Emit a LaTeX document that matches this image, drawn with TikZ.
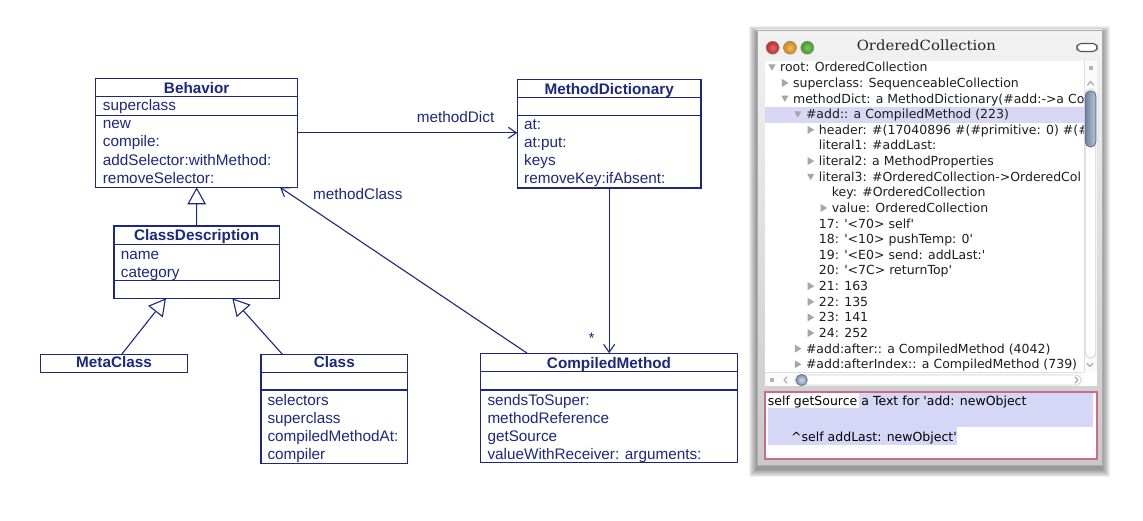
\documentclass[tikz,border=0pt]{standalone}
\usepackage{fontspec}
\setmainfont{Liberation Sans}
\newfontfamily\treefont{DejaVu Sans}[Ligatures=TeXOff]
\newfontfamily\titlefont{DejaVu Serif}[FakeStretch=1.06]
\usetikzlibrary{arrows.meta,calc}
\definecolor{umlblue}{RGB}{28,40,128}
\definecolor{selrow}{RGB}{216,216,244}
\definecolor{texthl}{RGB}{214,214,246}
\definecolor{treeink}{RGB}{30,30,30}
\definecolor{thumbdark}{RGB}{95,115,150}
\definecolor{thumbfill}{RGB}{140,162,195}
\definecolor{paneborder}{RGB}{205,105,140}
\definecolor{lightred}{RGB}{222,50,50}
\definecolor{lightorange}{RGB}{240,160,30}
\definecolor{lightgreen}{RGB}{80,180,50}
\tikzset{
  umlbox/.style={draw=umlblue, line width=1.1bp, inner sep=0pt, outer sep=0pt, fill=white},
  umlsep/.style={draw=umlblue, line width=1.1bp},
  umltext/.style={text=umlblue, inner sep=0pt, anchor=base west, font=\fontsize{15.3bp}{18bp}\selectfont},
  umltitle/.style={umltext, anchor=base, font=\bfseries\fontsize{15.3bp}{18bp}\selectfont},
  assoc/.style={draw=umlblue, line width=1.1bp, -{Straight Barb[length=8bp,width=11bp,line width=1.1bp]}},
  inherit/.style={draw=umlblue, line width=1.1bp, -{Triangle[open,length=17bp,width=18.5bp,line width=1.1bp,fill=white]}},
  treetext/.style={text=treeink, inner sep=0pt, anchor=base west, font=\treefont\fontsize{12.5bp}{15bp}\selectfont},
  chev/.style={draw=gray!65, line width=1.3bp, line cap=round, line join=round},
  tridown/.pic={\fill[gray!70] (-3.6,-2.9) -- (3.6,-2.9) -- (0,3.4) -- cycle;},
  triright/.pic={\fill[gray!70] (-3,-4) -- (3.6,0) -- (-3,4) -- cycle;}
}
\begin{document}
\begin{tikzpicture}[x=1bp,y=-1bp]
\useasboundingbox (0,0) rectangle (1143,521);
\fill[white] (0,0) rectangle (1143,521);

% ---------------- UML diagram ----------------
\node[umlbox, minimum width=202bp, minimum height=109bp] (behavior) at (196.7,132.8) {};
\draw[umlsep] (behavior.west |- 0,96.7) -- (behavior.east |- 0,96.7);
\draw[umlsep] (behavior.west |- 0,115.7) -- (behavior.east |- 0,115.7);
\node[umltitle] (behaviortitle) at (196.7,93.5) {Behavior};
\node[umltext] (battr) at (102.7,110.7) {superclass};
\foreach \t [count=\i from 0] in {new,compile:,addSelector:withMethod:,removeSelector:}
  \node[umltext] (bm\i) at (102.7,128.5+18.3*\i) {\t};

\node[umlbox, minimum width=183.7bp, minimum height=108.7bp] (mdict) at (609.15,133.65) {};
\draw[umlsep] (mdict.west |- 0,97.7) -- (mdict.east |- 0,97.7);
\draw[umlsep] (mdict.west |- 0,115.7) -- (mdict.east |- 0,115.7);
\node[umltitle] (mdicttitle) at (609.15,94.3) {MethodDictionary};
\foreach \t [count=\i from 0] in {at:,at:put:,keys,removeKey:ifAbsent:}
  \node[umltext] (mm\i) at (524,130+17.8*\i) {\t};

\node[umlbox, minimum width=256.6bp, minimum height=109bp] (cmethod) at (609,407.8) {};
\draw[umlsep] (cmethod.west |- 0,371.7) -- (cmethod.east |- 0,371.7);
\draw[umlsep] (cmethod.west |- 0,390) -- (cmethod.east |- 0,390);
\node[umltitle] (cmethodtitle) at (609,368.3) {CompiledMethod};
\foreach \t [count=\i from 0] in {sendsToSuper:,methodReference,getSource,valueWithReceiver: arguments:}
  \node[umltext] (cm\i) at (487.3,405+18*\i) {\t};

\node[umlbox, minimum width=165.3bp, minimum height=72.3bp] (cdesc) at (196.65,262.15) {};
\draw[umlsep] (cdesc.west |- 0,244.3) -- (cdesc.east |- 0,244.3);
\draw[umlsep] (cdesc.west |- 0,280.7) -- (cdesc.east |- 0,280.7);
\node[umltitle] (cdesctitle) at (196.65,240.7) {ClassDescription};
\node[umltext] (cdname) at (120.7,259.3) {name};
\node[umltext] (cdcat) at (120.7,277.3) {category};

\node[umlbox, minimum width=146.6bp, minimum height=18bp] (metaclass) at (114,363.3) {};
\node[umltitle] (metaclasstitle) at (114,367.7) {MetaClass};

\node[umlbox, minimum width=146.7bp, minimum height=109bp] (class) at (334.35,408.8) {};
\draw[umlsep] (class.west |- 0,372.7) -- (class.east |- 0,372.7);
\draw[umlsep] (class.west |- 0,390) -- (class.east |- 0,390);
\node[umltitle] (classtitle) at (334.35,367.7) {Class};
\foreach \t [count=\i from 0] in {selectors,superclass,compiledMethodAt:,compiler}
  \node[umltext] (clm\i) at (267.3,405+18*\i) {\t};

% connectors
\draw[assoc] (behavior.east) -- (behavior.east -| mdict.west);
\node[umltext] (lbldict) at (416.7,122.7) {methodDict};
\draw[assoc] (mdict.south) -- (mdict.south |- cmethod.north);
\node[umltext, anchor=base] (lblstar) at (591.7,343.5) {*};
\coordinate (cmstart) at ($(cmethod.north west)+(46.6,0)$);
\coordinate (mcend) at ($(behavior.south east)+(-17.7,0)$);
\draw[assoc] (cmstart) -- (mcend);
\node[umltext] (lblclass) at (313,199.3) {methodClass};

\draw[inherit] (cdesc.north) -- (behavior.south);
\coordinate (mcfoot) at ($(metaclass.north)+(7.7,0)$);
\coordinate (cdl) at ($(cdesc.south)+(-30.65,0)$);
\coordinate (clfoot) at ($(class.north)+(-52,0)$);
\coordinate (cdr) at ($(cdesc.south)+(35.65,0)$);
\draw[inherit] (mcfoot) -- (cdl);
\draw[inherit] (clfoot) -- (cdr);

% ---------------- Window ----------------
\foreach \k in {1,...,8}
  \fill[black, opacity=0.06] (757-\k,30-\k+4) rectangle (1102+\k,465+\k+4);
\shade[top color=gray!10, bottom color=gray!42, draw=gray!65, line width=0.8bp]
  (757,30) rectangle (1102,465);
\shade[inner color=lightred!75!white, outer color=lightred!85!black, draw=black!45, line width=0.5bp] (772.7,47.7) circle (6.5);
\shade[inner color=lightorange!75!white, outer color=lightorange!85!black, draw=black!45, line width=0.5bp] (790,47.7) circle (6.5);
\shade[inner color=lightgreen!75!white, outer color=lightgreen!85!black, draw=black!45, line width=0.5bp] (807.3,47.7) circle (6.5);
\node[text=black!85, inner sep=0pt, anchor=base, font=\titlefont\fontsize{14bp}{16bp}\selectfont] (wtitle) at (926.3,50.7) {OrderedCollection};
\draw[gray!65!black, line width=1.1bp, fill=white, rounded corners=4bp] (1077,43.5) rectangle (1097,51.5);

% tree pane
\fill[white] (765,61) rectangle (1097,386);
\fill[selrow] (765,107.3) rectangle (1084,122.7);
\begin{scope}
\clip (765,61) rectangle (1084,372);
\foreach \lv/\ty/\tx [count=\i from 0] in {
  0/d/root: OrderedCollection,
  1/r/superclass: SequenceableCollection,
  1/d/methodDict: a MethodDictionary(\#add:->a Co,
  2/d/\#add:: a CompiledMethod (223),
  3/r/header: \#(17040896 \#(\#primitive: 0) \#(\#,
  3/n/literal1: \#addLast:,
  3/r/literal2: a MethodProperties,
  3/d/literal3: \#OrderedCollection->OrderedCol,
  4/n/key: \#OrderedCollection,
  4/r/value: OrderedCollection,
  3/n/17: '<70> self',
  3/n/18: '<10> pushTemp: 0',
  3/n/19: '<E0> send: addLast:',
  3/n/20: '<7C> returnTop',
  3/r/21: 163,
  3/r/22: 135,
  3/r/23: 141,
  3/r/24: 252,
  2/r/\#add:after:: a CompiledMethod (4042),
  2/r/\#add:afterIndex:: a CompiledMethod (739)}
{
  \node[treetext] (row\i) at (780+12.9*\lv,71.8+15.63*\i) {\tx};
  \if d\ty \pic at (772+12.9*\lv,67.3+15.63*\i) {tridown};\fi
  \if r\ty \pic at (772+12.9*\lv,67.3+15.63*\i) {triright};\fi
}
\end{scope}

% vertical scrollbar
\fill[gray!4] (1084,61) rectangle (1097,372);
\draw[gray!25, line width=0.6bp] (1084,61) -- (1084,372);
\fill[gray!60] (1088.5,65.7) rectangle (1092.5,69.7);
\draw[chev] (1087.5,85) -- (1090.5,81.5) -- (1093.5,85);
\draw[gray!35, fill=white, rounded corners=5bp, line width=0.8bp] (1085.3,89) rectangle (1095.8,358);
\draw[thumbdark, left color=thumbfill!80!black, right color=thumbfill!60!white, rounded corners=5bp, line width=0.9bp] (1085.3,91) rectangle (1095.8,147);
\draw[chev] (1087,363.5) -- (1090,366.5) -- (1093,363.5);

% horizontal scrollbar
\fill[gray!4] (765,372) rectangle (1097,386);
\draw[gray!25, line width=0.6bp] (765,372) -- (1084,372);
\fill[gray!60] (769.7,378) rectangle (773.7,382);
\draw[chev] (787,377) -- (784,380) -- (787,383);
\draw[gray!35, fill=white, rounded corners=5bp, line width=0.8bp] (795,375) rectangle (1081,385);
\shade[inner color=thumbfill!40!white, outer color=thumbfill!90!black, draw=thumbdark, line width=0.8bp] (801.7,380) circle (5.6);
\draw[chev] (1075,377) -- (1078,380) -- (1075,383);
\fill[white] (1084,372) rectangle (1097,386);

% text pane
\draw[paneborder, fill=white, line width=1.2bp] (765,392) rectangle (1097,459);
\fill[texthl] (859,393.5) rectangle (1093,408);
\fill[texthl] (767.5,408) rectangle (1093,427);
\fill[texthl] (767.5,427) rectangle (957,444.5);
\node[treetext, text=black] (src1) at (767.7,405.5) {self getSource a Text for 'add: newObject};
\node[treetext, text=black] (src2) at (791,441.5) {\textasciicircum self addLast: newObject'};
\end{tikzpicture}
\end{document}
